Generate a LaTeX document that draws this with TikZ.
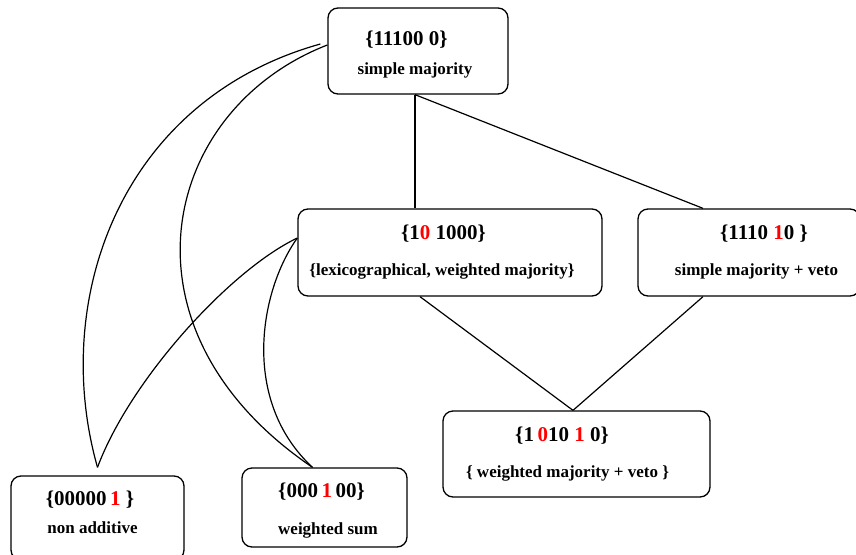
\documentclass[tikz,border=0pt]{standalone}
\usepackage{fontspec}
\setmainfont{Liberation Serif}
\usetikzlibrary{calc}
\tikzset{
  box/.style={draw, rounded corners=10pt, line width=1.3pt, inner sep=0pt},
  lineA/.style={font=\bfseries\fontsize{21}{25}\selectfont, anchor=base, inner sep=0pt},
  lineB/.style={font=\bfseries\fontsize{17}{20}\selectfont, anchor=base, inner sep=0pt},
  conn/.style={line width=1.2pt},
}
\newcommand{\rd}[1]{{\color{red}#1}}
\begin{document}
\begin{tikzpicture}[x=1pt,y=-1pt]
\useasboundingbox (0,0) rectangle (856,554);
% boxes
\node[box, minimum width=180pt, minimum height=86pt] (top) at (418,51) {};
\node[box, minimum width=304pt, minimum height=87pt] (lex) at (450,252.5) {};
\node[box, minimum width=222pt, minimum height=87pt] (veto) at (749,252.5) {};
\node[box, minimum width=267pt, minimum height=86pt] (wmv) at (576.5,454) {};
\node[box, minimum width=173pt, minimum height=84pt] (nadd) at (97.5,518) {};
\node[box, minimum width=165pt, minimum height=79pt] (wsum) at (324.5,507.5) {};
% texts
\node[lineA] (topA) at (406.5,45) {\{11100 0\}};
\node[lineB] (topB) at (415,74) {simple majority};
\node[lineA] (lexA) at (443.5,239) {\{1\rd{0} 1000\}};
\node[lineB] (lexB) at (442,275) {\{lexicographical, weighted majority\}};
\node[lineA] (vetoA) at (764,239) {\{1110 \rd{1}0 \}};
\node[lineB] (vetoB) at (756.5,275) {simple majority + veto};
\node[lineA] (wmvA) at (562,441) {\{1\,\rd{0}10 \rd{1} 0\}};
\node[lineB] (wmvB) at (567.5,477) {\{ weighted majority + veto \}};
\node[lineA] (naddA) at (90,505) {\{00000\,\rd{1} \}};
\node[lineB] (naddB) at (92.5,533) {non additive};
\node[lineA] (wsumA) at (321.5,497) {\{000\,\rd{1}\,00\}};
\node[lineB] (wsumB) at (328,534) {weighted sum};
% straight connectors
\draw[conn] ([xshift=-3pt]top.south) -- ([xshift=-3pt]top.south |- lex.north);
\draw[conn] ([xshift=-3pt]top.south) -- ([xshift=-46pt]veto.north);
\draw[conn] ([xshift=-30pt]lex.south) -- ([xshift=-3.5pt]wmv.north);
\draw[conn] ([xshift=-46pt]veto.south) -- ([xshift=-3.5pt]wmv.north);
% curved connectors
\draw[conn] ([xshift=-7pt,yshift=7pt]top.west) .. controls (120,100) and (50,300) .. ([yshift=8pt]nadd.north);
\draw[conn] ([yshift=6pt]top.west) .. controls (160,110) and (110,330) .. ([xshift=-12pt]wsum.north);
\draw[conn] ([yshift=14.5pt]lex.west) .. controls (230,270) and (130,380) .. ([yshift=8pt]nadd.north);
\draw[conn] ([yshift=14.5pt]lex.west) .. controls (260,290) and (240,400) .. ([xshift=-12pt]wsum.north);
\end{tikzpicture}
\end{document}
